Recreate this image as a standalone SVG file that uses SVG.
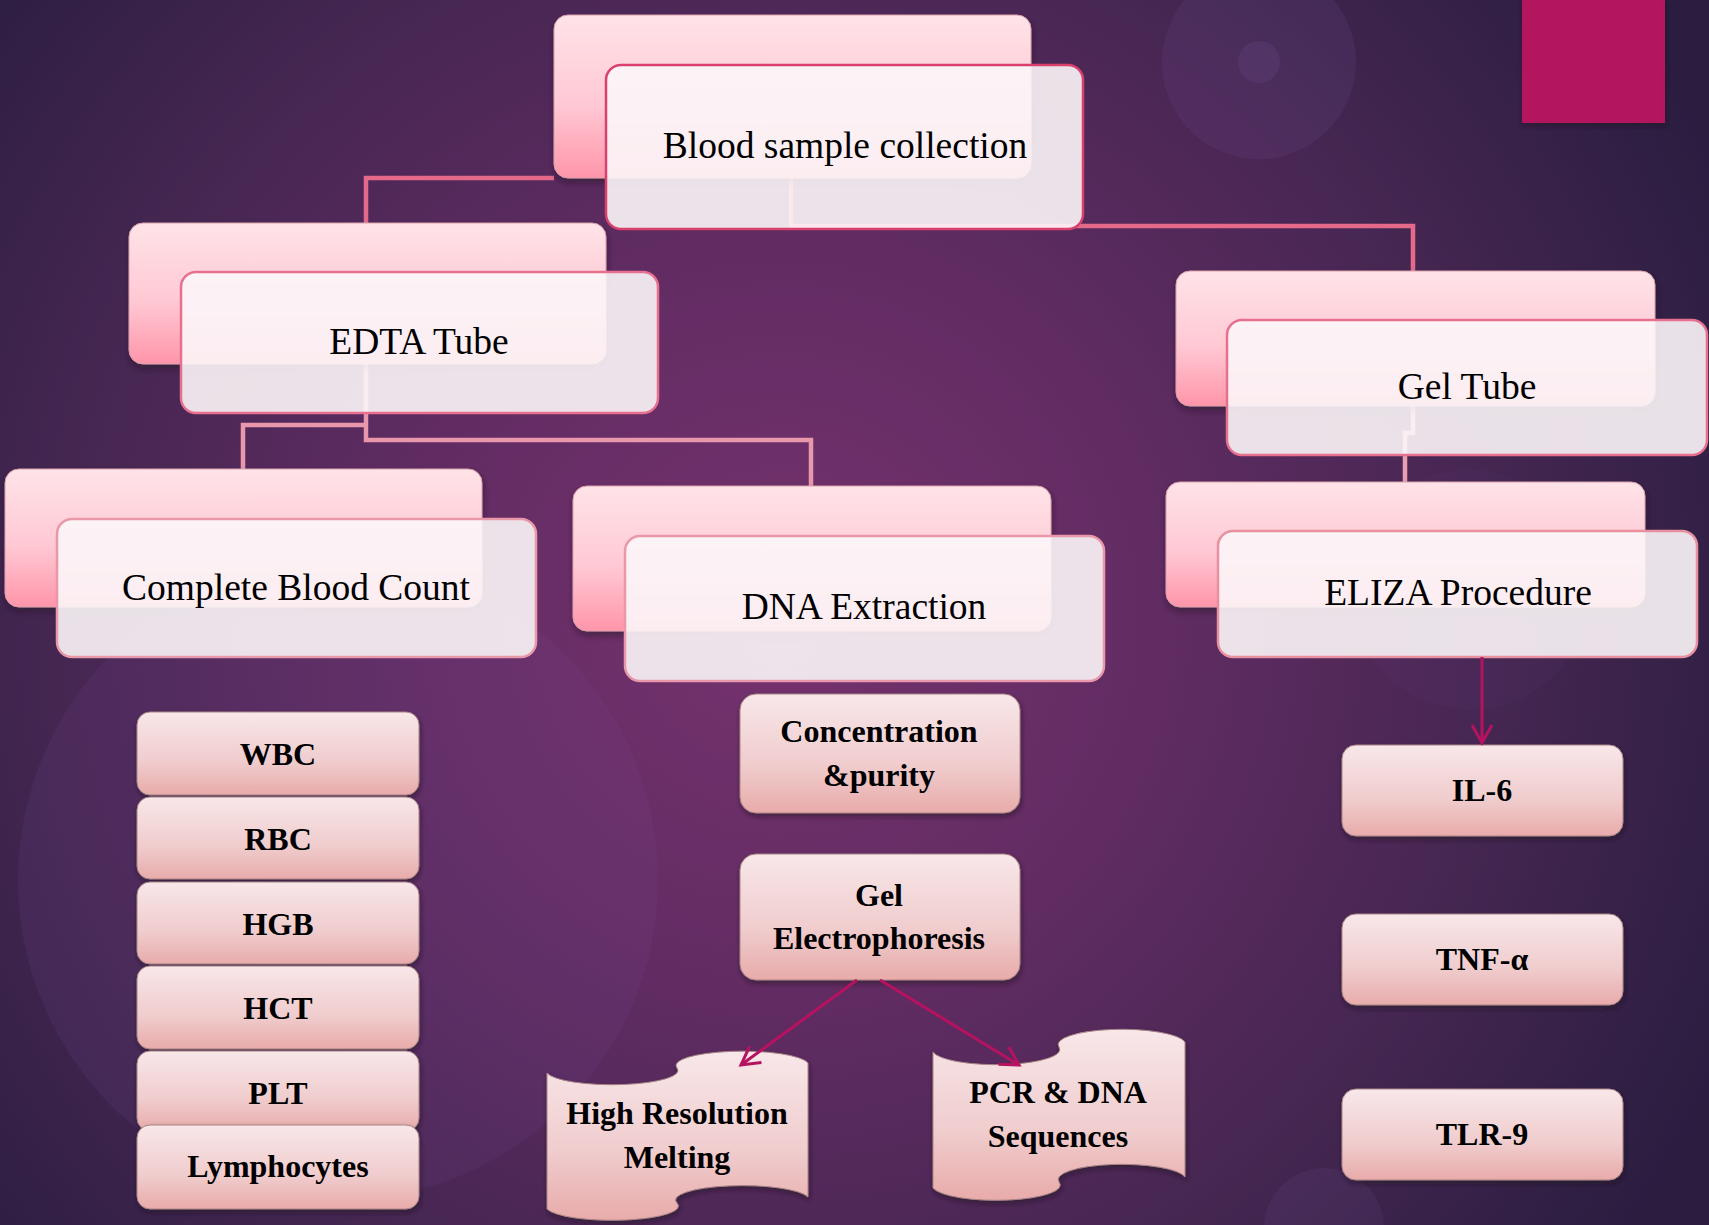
<svg xmlns="http://www.w3.org/2000/svg" width="1709" height="1225" viewBox="0 0 1709 1225">
  <defs>
    <radialGradient id="bg" gradientUnits="userSpaceOnUse" cx="780" cy="620" r="1050">
      <stop offset="0" stop-color="#76326e"/>
      <stop offset="0.35" stop-color="#622c63"/>
      <stop offset="0.7" stop-color="#442651"/>
      <stop offset="1" stop-color="#2a1d40"/>
    </radialGradient>
    <linearGradient id="backG" x1="0" y1="0" x2="0" y2="1">
      <stop offset="0" stop-color="#ffe3e8"/>
      <stop offset="0.55" stop-color="#ffc9d4"/>
      <stop offset="1" stop-color="#ff95aa"/>
    </linearGradient>
    <linearGradient id="smallG" x1="0" y1="0" x2="0" y2="1">
      <stop offset="0" stop-color="#f8e7e9"/>
      <stop offset="0.6" stop-color="#f0cccd"/>
      <stop offset="1" stop-color="#e8abaa"/>
    </linearGradient>
    <filter id="sh" x="-10%" y="-10%" width="120%" height="130%">
      <feDropShadow dx="1" dy="4" stdDeviation="3" flood-color="#1a0a1a" flood-opacity="0.5"/>
    </filter>
    <filter id="sh2" x="-10%" y="-10%" width="120%" height="130%">
      <feDropShadow dx="1" dy="3" stdDeviation="2.5" flood-color="#1a0a1a" flood-opacity="0.55"/>
    </filter>
    <marker id="arr" markerUnits="userSpaceOnUse" markerWidth="30" markerHeight="30" refX="20" refY="12" orient="auto" viewBox="0 0 30 24">
      <path d="M2,2 L20,12 L2,22" fill="none" stroke="#b5125f" stroke-width="3"/>
    </marker>
    <style>
      .back { fill: url(#backG); stroke: #d8a0ac; stroke-width: 1; filter: url(#sh); }
      .front { fill: #fcf6f8; fill-opacity: 0.9; stroke-width: 2.5; }
      .big { font-family: "Liberation Serif", "Times New Roman", serif; font-size: 37.5px; fill: #000; text-anchor: middle; }
      .sm { font-family: "Liberation Serif", "Times New Roman", serif; font-size: 32px; font-weight: bold; fill: #000; text-anchor: middle; }
      .box { fill: url(#smallG); stroke: #a88486; stroke-width: 1; filter: url(#sh2); }
      .conn { fill: none; stroke-width: 4.5; stroke-linejoin: miter; }
      .arrow { fill: none; stroke: #b5125f; stroke-width: 3; marker-end: url(#arr); }
    </style>
  </defs>

  <!-- background -->
  <rect x="0" y="0" width="1709" height="1225" fill="url(#bg)"/>
  <circle cx="338" cy="880" r="320" fill="#7d4c9c" fill-opacity="0.13"/>
  <circle cx="1259" cy="62" r="97" fill="#7a5aa0" fill-opacity="0.13"/>
  <circle cx="1259" cy="62" r="21" fill="#7a5aa0" fill-opacity="0.18"/>
  <circle cx="1324" cy="1228" r="60" fill="#7a5aa0" fill-opacity="0.12"/>
  <circle cx="1470" cy="590" r="120" fill="#7a5aa0" fill-opacity="0.06"/>
  <rect x="1522" y="0" width="143" height="123" fill="#b3135f" filter="url(#sh2)"/>

  <!-- tree connectors (drawn beneath the boxes) -->
  <g id="connectors">
    <polyline class="conn" stroke="#e56a8a" points="554,178 366,178 366,224"/>
    <polyline class="conn" stroke="#e56a8a" points="791,178 791,226 1413,226 1413,272"/>
    <polyline class="conn" stroke="#e898aa" points="366,364 366,440 811,440 811,488"/>
    <polyline class="conn" stroke="#e898aa" points="366,425 243,425 243,470"/>
    <polyline class="conn" stroke="#eba0b2" points="1413,400 1413,433 1405,433 1405,484"/>
  </g>

  <!-- two-layer nodes -->
  <g id="node-blood">
    <rect class="back" x="554" y="15" width="477" height="163" rx="14"/>
    <rect class="front" x="606" y="65" width="477" height="164" rx="15" stroke="#d9406e"/>
    <text class="big" x="845" y="158">Blood sample collection</text>
  </g>
  <g id="node-edta">
    <rect class="back" x="129" y="223" width="477" height="141" rx="14"/>
    <rect class="front" x="181" y="272" width="477" height="141" rx="15" stroke="#e8708f"/>
    <text class="big" x="419" y="354">EDTA Tube</text>
  </g>
  <g id="node-gel-tube">
    <rect class="back" x="1176" y="271" width="479" height="135" rx="14"/>
    <rect class="front" x="1227" y="320" width="480" height="135" rx="15" stroke="#e8708f"/>
    <text class="big" x="1467" y="399">Gel Tube</text>
  </g>
  <g id="node-cbc">
    <rect class="back" x="5" y="469" width="477" height="138" rx="14"/>
    <rect class="front" x="57" y="519" width="479" height="138" rx="15" stroke="#e898a8"/>
    <text class="big" x="296" y="600">Complete Blood Count</text>
  </g>
  <g id="node-dna">
    <rect class="back" x="573" y="486" width="478" height="145" rx="14"/>
    <rect class="front" x="625" y="536" width="479" height="145" rx="15" stroke="#e898a8"/>
    <text class="big" x="864" y="619">DNA Extraction</text>
  </g>
  <g id="node-eliza">
    <rect class="back" x="1166" y="482" width="479" height="125" rx="14"/>
    <rect class="front" x="1218" y="531" width="479" height="126" rx="15" stroke="#e8909f"/>
    <text class="big" x="1458" y="605">ELIZA Procedure</text>
  </g>

  <!-- CBC parameters -->
  <g id="node-wbc"><rect class="box" x="137" y="712" width="282" height="83" rx="13"/><text class="sm" x="278" y="765">WBC</text></g>
  <g id="node-rbc"><rect class="box" x="137" y="797" width="282" height="82" rx="13"/><text class="sm" x="278" y="850">RBC</text></g>
  <g id="node-hgb"><rect class="box" x="137" y="882" width="282" height="82" rx="13"/><text class="sm" x="278" y="935">HGB</text></g>
  <g id="node-hct"><rect class="box" x="137" y="966" width="282" height="83" rx="13"/><text class="sm" x="278" y="1019">HCT</text></g>
  <g id="node-plt"><rect class="box" x="137" y="1051" width="282" height="80" rx="13"/><text class="sm" x="278" y="1104">PLT</text></g>
  <g id="node-lymph"><rect class="box" x="137" y="1125" width="282" height="84" rx="13"/><text class="sm" x="278" y="1177">Lymphocytes</text></g>

  <!-- DNA steps -->
  <g id="node-conc"><rect class="box" x="740" y="694" width="280" height="119" rx="16"/><text class="sm" x="879" y="742">Concentration</text><text class="sm" x="879" y="786">&amp;purity</text></g>
  <g id="node-gelelec"><rect class="box" x="740" y="854" width="280" height="126" rx="16"/><text class="sm" x="879" y="906">Gel</text><text class="sm" x="879" y="949">Electrophoresis</text></g>

  <g id="node-hrm">
    <path class="box" d="M547,1073 A65,14 0 0 0 677,1068 A65,14 0 0 1 808,1063 L808,1197 A65,14 0 0 0 677,1203 A65,14 0 0 1 547,1209 Z"/>
    <text class="sm" x="677" y="1124">High Resolution</text>
    <text class="sm" x="677" y="1168">Melting</text>
  </g>
  <g id="node-pcr">
    <path class="box" d="M933,1052 A63,15 0 0 0 1059,1047 A63,15 0 0 1 1185,1042 L1185,1177 A63,15 0 0 0 1059,1182 A63,15 0 0 1 933,1188 Z"/>
    <text class="sm" x="1058" y="1103">PCR &amp; DNA</text>
    <text class="sm" x="1058" y="1147">Sequences</text>
  </g>

  <!-- cytokines -->
  <g id="node-il6"><rect class="box" x="1342" y="745" width="281" height="91" rx="14"/><text class="sm" x="1482" y="801">IL-6</text></g>
  <g id="node-tnf"><rect class="box" x="1342" y="914" width="281" height="91" rx="14"/><text class="sm" x="1482" y="970">TNF-α</text></g>
  <g id="node-tlr9"><rect class="box" x="1342" y="1089" width="281" height="91" rx="14"/><text class="sm" x="1482" y="1145">TLR-9</text></g>

  <!-- arrow connectors (drawn on top) -->
  <g id="arrow-connectors">
    <line class="arrow" x1="1482" y1="657" x2="1482" y2="743"/>
    <line class="arrow" x1="857" y1="980" x2="741" y2="1065"/>
    <line class="arrow" x1="880" y1="980" x2="1019" y2="1065"/>
  </g>
</svg>
